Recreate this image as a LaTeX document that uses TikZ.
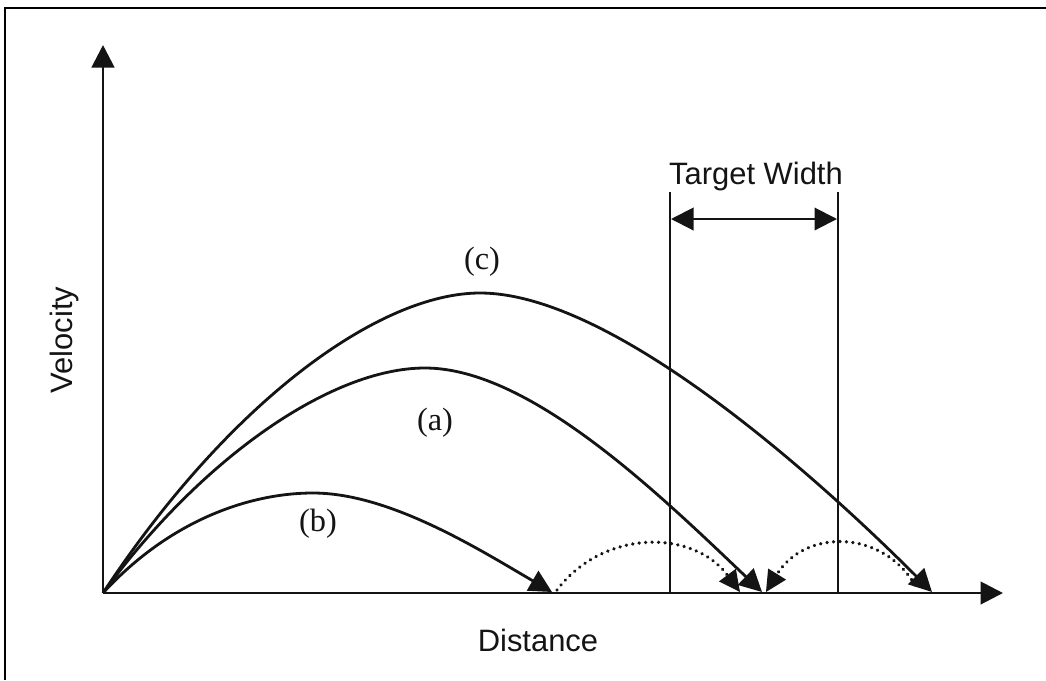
\documentclass[tikz,border=0pt]{standalone}
\usepackage{fontspec}
\setmainfont{Liberation Serif}
\setsansfont{Liberation Sans}
\usetikzlibrary{arrows.meta,positioning,calc}
\definecolor{inkblack}{RGB}{20,20,20}

\begin{document}
\begin{tikzpicture}[x=0.025cm,y=-0.025cm,
    axis/.style={line width=2.1pt,inkblack,-{Triangle[length=16pt,width=16pt]}},
    flight/.style={line width=2pt,inkblack,-{Triangle[length=16pt,width=16pt]}},
    bounce/.style={line width=2.6pt,inkblack,line cap=round,dash pattern=on 0.01pt off 4.6pt,
                   -{Triangle[length=15pt,width=15pt,line width=0pt,round=false]}},
    edge/.style={line width=1.5pt,inkblack},
    axlabel/.style={font=\sffamily\fontsize{22}{26}\selectfont,text=inkblack},
    caselabel/.style={font=\rmfamily\fontsize{23}{27}\selectfont,text=inkblack}
  ]
    \useasboundingbox (0,0) rectangle (1046,680);
    % frame of the cropped figure
    \draw[line width=1.4pt] (5,680) -- (5,8) -- (1046,8);

    \coordinate (orig) at (103,593);
    \coordinate (ytip) at (103,45);
    \coordinate (xtip) at (1003,593);
    \draw[axis] (orig) -- (ytip);
    \draw[axis] (orig) -- (xtip);

    \node[axlabel,rotate=90] (vel) at (65,340) {Velocity};
    \node[axlabel] (dist) at (538,640) {Distance};

    % target width
    \coordinate (tl) at (670,192);
    \coordinate (tr) at (838,192);
    \draw[edge] (tl) -- (tl |- orig);
    \draw[edge] (tr) -- (tr |- orig);
    \node[axlabel] (tw) at (756,176) {Target Width};
    \draw[edge,{Triangle[length=16pt,width=16pt]}-{Triangle[length=16pt,width=16pt]}]
      ($(tl)+(1,27)$) -- ($(tr)+(-1,27)$);

    % trajectories
    \coordinate (endb) at (552,592);
    \coordinate (enda) at (762,592);
    \coordinate (endc) at (932,592);
    \draw[flight] (orig) .. controls (230,400) and (380,293) .. (480,293)
                        .. controls (610,293) and (810,470) .. (endc);
    \draw[flight] (orig) .. controls (200,460) and (330,368) .. (425,368)
                        .. controls (530,368) and (660,495) .. (enda);
    \draw[flight] (orig) .. controls (170,520) and (250,493) .. (313,493)
                        .. controls (390,493) and (480,550) .. (endb);

    % bounces
    \draw[bounce] (557,590) .. controls (603,529) and (693,529) .. (740,592);
    \draw[bounce] (915,585) .. controls (882,529) and (805,529) .. (766,592);

    \node[caselabel] (lc) at (482,262) {(c)};
    \node[caselabel] (la) at (435,423) {(a)};
    \node[caselabel] (lb) at (318,524) {(b)};
\end{tikzpicture}
\end{document}
